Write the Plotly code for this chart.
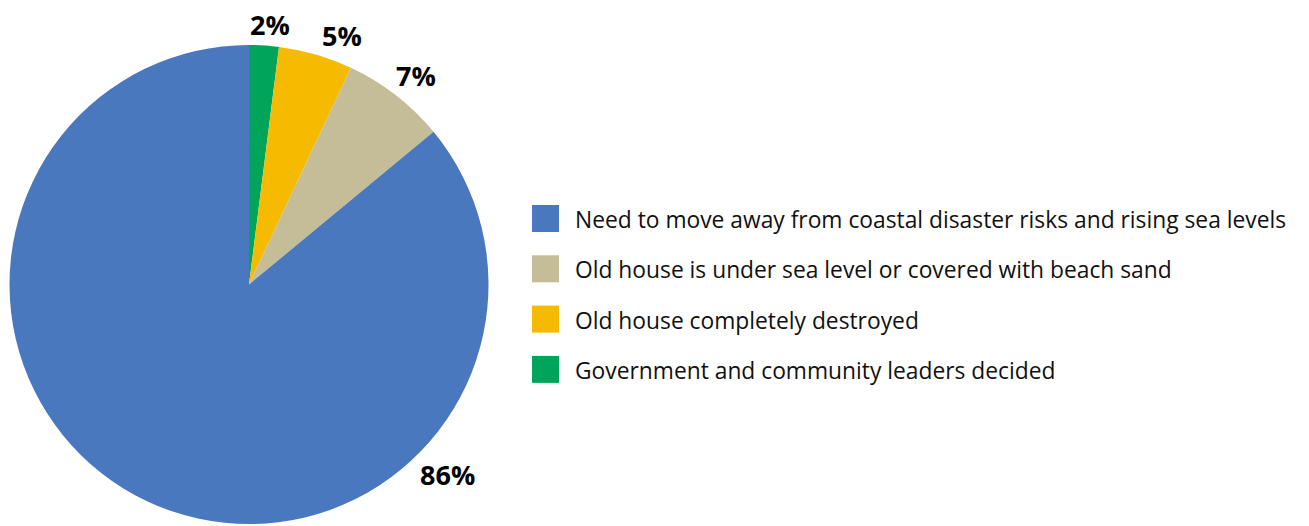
import math
import plotly.graph_objects as go

# ---- data (clockwise from 12 o'clock) ----
labels = [
    "Government and community leaders decided",
    "Old house completely destroyed",
    "Old house is under sea level or covered with beach sand",
    "Need to move away from coastal disaster risks and rising sea levels",
]
values = [2, 5, 7, 86]
colors = ["#00A55B", "#F6BB00", "#C4BD97", "#4A78BE"]

# legend order (top to bottom) as in the original
legend_order = [3, 2, 1, 0]

# ---- layout constants (pixels, page coordinates) ----
W, H = 1309, 526
OFF = 0  # page body margin (set to 0 below)
CX, CY, R = 249.0, 284.5, 239.5
FONT = "Open Sans"

# label placement: angle clockwise from 12 o'clock (deg), distance from centre (px)
label_angle = [4.6, 20.4, 38.6, 133.8]
label_dist = [261, 266, 268, 275]

# legend geometry
LEG_X0, LEG_SQ, LEG_TX = 532, 27, 573
LEG_Y0, LEG_STEP = 205, 50.3


def px(x):
    return (x - OFF) / W


def py(y):
    return 1 - (y - OFF) / H


fig = go.Figure(
    go.Pie(
        labels=labels,
        values=values,
        sort=False,
        direction="clockwise",
        rotation=0,
        marker=dict(colors=colors, line=dict(width=0)),
        textinfo="none",
        hoverinfo="label+percent",
        showlegend=False,
        domain=dict(x=[px(CX - R), px(CX + R)], y=[py(CY + R), py(CY - R)]),
    )
)

total = sum(values)
annotations = []
shapes = []
for i, v in enumerate(values):
    pct = round(v / total * 100)
    a = math.radians(label_angle[i])
    x = CX + label_dist[i] * math.sin(a)
    y = CY - label_dist[i] * math.cos(a)
    annotations.append(dict(
        x=px(x), y=py(y), xref="paper", yref="paper",
        text=f"<b>{pct}%</b>", showarrow=False,
        xanchor="center", yanchor="middle",
        font=dict(family=FONT, size=27, color="#000000"),
    ))

for row, i in enumerate(legend_order):
    top = LEG_Y0 + row * LEG_STEP
    shapes.append(dict(
        type="rect", xref="paper", yref="paper",
        x0=px(LEG_X0), x1=px(LEG_X0 + LEG_SQ),
        y0=py(top + LEG_SQ), y1=py(top),
        fillcolor=colors[i], line=dict(width=0),
    ))
    annotations.append(dict(
        x=px(LEG_TX), y=py(top + LEG_SQ / 2 + 1), xref="paper", yref="paper",
        text=labels[i], showarrow=False, xanchor="left", yanchor="middle",
        font=dict(family=FONT, size=22.8, color="#111111"),
    ))

fig.update_layout(
    width=W, height=H,
    margin=dict(l=0, r=0, t=0, b=0),
    paper_bgcolor="white", plot_bgcolor="white",
    annotations=annotations, shapes=shapes,
    showlegend=False,
)

fig.write_html(
    "out.html",
    config={"displayModeBar": False},
    post_script="document.body.style.margin='0px';",
)
